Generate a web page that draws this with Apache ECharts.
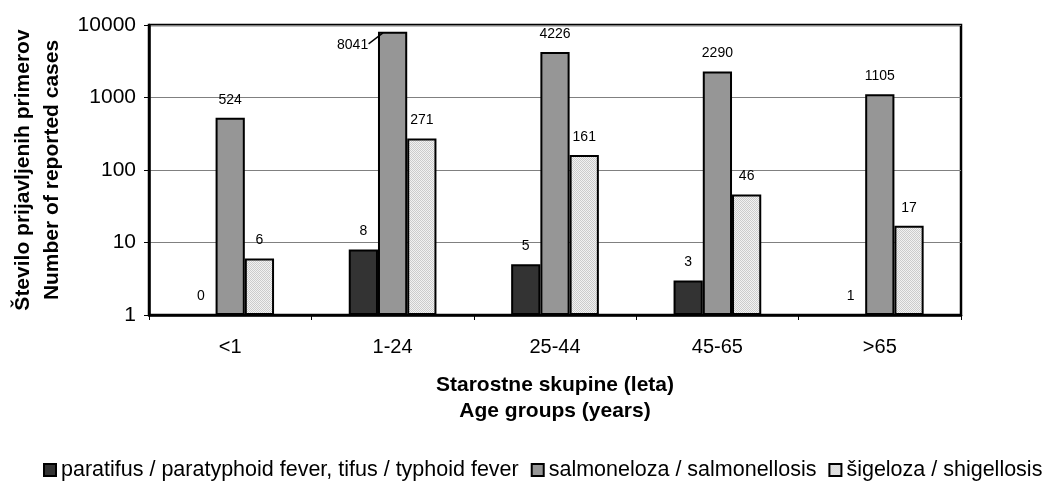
<!DOCTYPE html>
<html>
<head>
<meta charset="utf-8">
<script src="https://cdn.jsdelivr.net/npm/echarts@6/dist/echarts.min.js"></script>
<style>
html,body{margin:0;padding:0;background:#fff;}
#c{width:1044px;height:487px;}
</style>
</head>
<body>
<div id="c"></div>
<script>
const categories = ['<1', '1-24', '25-44', '45-65', '>65'];
const paratyphoid = [0, 8, 5, 3, 1];
const salmonellosis = [524, 8041, 4226, 2290, 1105];
const shigellosis = [6, 271, 161, 46, 17];
const seriesNames = [
  'paratifus / paratyphoid fever, tifus / typhoid fever',
  'salmoneloza / salmonellosis',
  'šigeloza / shigellosis'
];
const yTicks = [1, 10, 100, 1000, 10000];

const FONT = 'Liberation Sans, Arial, sans-serif';

// dotted pattern for shigellosis
const pc = document.createElement('canvas');
pc.width = 2; pc.height = 2;
const pctx = pc.getContext('2d');
pctx.fillStyle = '#f2f2f2'; pctx.fillRect(0, 0, 2, 2);
pctx.fillStyle = '#cccccc'; pctx.fillRect(0, 0, 1, 1); pctx.fillRect(1, 1, 1, 1);
const pattern = { image: pc, repeat: 'repeat' };

function toPlot(arr) {
  // log axis: a zero count is drawn as an empty bar at the baseline
  return arr.map(v => (v > 0 ? v : 1));
}

const labelBase = {
  show: true, position: 'top', distance: 11,
  color: '#000', fontSize: 14, fontFamily: FONT
};

const chart = echarts.init(document.getElementById('c'), null, { renderer: 'canvas' });
chart.setOption({
  animation: false,
  backgroundColor: '#fff',
  textStyle: { fontFamily: FONT },
  grid: {
    left: 149, right: 83, top: 25, bottom: 172,
    outerBoundsMode: 'none', containLabel: false,
    show: true, borderColor: '#000', borderWidth: 2.5, backgroundColor: 'transparent'
  },
  legend: {
    bottom: 1, left: 38, width: 1200,
    itemWidth: 12, itemHeight: 12, itemGap: 12,
    icon: 'rect',
    textStyle: { fontSize: 21.5, color: '#000', fontFamily: FONT },
    data: seriesNames
  },
  xAxis: {
    type: 'category',
    data: categories,
    boundaryGap: true,
    axisLine: { lineStyle: { color: '#000', width: 2.5 } },
    axisTick: { show: true, length: 5, lineStyle: { color: '#000', width: 1 } },
    axisLabel: { fontSize: 20, color: '#000', margin: 22, fontFamily: FONT },
    name: 'Starostne skupine (leta)\nAge groups (years)',
    nameLocation: 'middle',
    nameGap: 57,
    nameTextStyle: { fontSize: 21, fontWeight: 'bold', color: '#000', lineHeight: 26, fontFamily: FONT, verticalAlign: 'top' }
  },
  yAxis: {
    type: 'log',
    logBase: 10,
    min: yTicks[0],
    max: yTicks[yTicks.length - 1],
    axisLine: { show: true, lineStyle: { color: '#000', width: 2.5 } },
    axisTick: { show: true, length: 5, lineStyle: { color: '#000', width: 1 } },
    splitLine: { show: true, lineStyle: { color: '#808080', width: 1 } },
    axisLabel: { fontSize: 21, color: '#000', margin: 13, fontFamily: FONT, formatter: v => String(v) },
    name: 'Število prijavljenih primerov\nNumber of reported cases',
    nameLocation: 'middle',
    nameRotate: 90,
    nameGap: 81,
    nameTextStyle: { fontSize: 21, fontWeight: 'bold', color: '#000', lineHeight: 29, fontFamily: FONT }
  },
  series: [
    {
      name: seriesNames[0], type: 'bar',
      data: toPlot(paratyphoid),
      barGap: '0%', barCategoryGap: '46%',
      itemStyle: { color: '#333333', borderColor: '#000', borderWidth: 2 },
      label: Object.assign({}, labelBase, { formatter: p => String(paratyphoid[p.dataIndex]) })
    },
    {
      name: seriesNames[1], type: 'bar',
      data: toPlot(salmonellosis),
      barGap: '0%', barCategoryGap: '46%',
      itemStyle: { color: '#969696', borderColor: '#000', borderWidth: 2 },
      label: Object.assign({}, labelBase, { formatter: p => String(salmonellosis[p.dataIndex]) }),
      labelLayout: p => (p.dataIndex === 1 ? { dx: -40, dy: 31 } : {})
    },
    {
      name: seriesNames[2], type: 'bar',
      data: toPlot(shigellosis),
      barGap: '0%', barCategoryGap: '46%',
      itemStyle: { color: pattern, borderColor: '#000', borderWidth: 2 },
      label: Object.assign({}, labelBase, { formatter: p => String(shigellosis[p.dataIndex]) })
    }
  ]
});

// leader line for the moved "8041" label, anchored on the bar's layout
try {
  const lay = chart.getModel().getSeriesByIndex(1).getData().getItemLayout(1);
  const top = Math.min(lay.y, lay.y + lay.height);
  const cx = lay.x + lay.width / 2;
  chart.setOption({
    graphic: [{
      type: 'line',
      shape: { x1: cx - 40 + 16, y1: top + 12, x2: lay.x + 5, y2: top + 1 },
      style: { stroke: '#000', lineWidth: 1.3 },
      z: 10
    }]
  });
} catch (e) {}
</script>
</body>
</html>
